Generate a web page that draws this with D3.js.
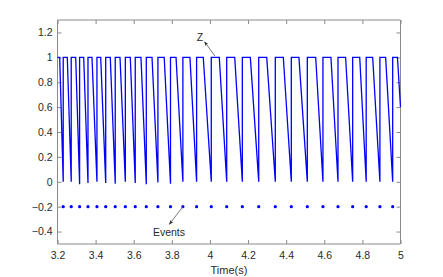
<!DOCTYPE html>
<html>
<head>
<meta charset="utf-8">
<script src="https://cdn.jsdelivr.net/npm/d3@7"></script>
<style>
  body { margin: 0; background: #fff; }
  text { font-family: "Liberation Sans Narrow", "Liberation Sans", Arial, sans-serif; }
</style>
</head>
<body>
<script>
// times (s) where an event fires; z is reset to 1 there
const eventTimes = [3.230, 3.272, 3.316, 3.360, 3.407, 3.453, 3.503, 3.556, 3.608,
    3.666, 3.727, 3.793, 3.858, 3.930, 4.007, 4.088, 4.170, 4.256, 4.343,
    4.427, 4.511, 4.593, 4.672, 4.749, 4.820, 4.892, 4.959];
// time where z leaves the flat top after each event
const plateauEnds = [3.2514, 3.2955, 3.3375, 3.381, 3.4267, 3.477, 3.528, 3.582, 3.638,
    3.696, 3.760, 3.822, 3.895, 3.965, 4.049, 4.130, 4.212, 4.298, 4.385,
    4.467, 4.555, 4.635, 4.712, 4.786, 4.854, 4.922, 4.984];
// z value just before each event
const troughValues = [0, 0, -0.02, -0.01, 0, -0.01, -0.015, 0, -0.01,
    -0.02, -0.005, -0.015, 0, 0, 0, 0, 0, 0, 0,
    0, 0, 0, 0, 0, 0, 0, 0];
const zStart = [[3.2, 1], [3.2115, 1]];
const zEnd = [5, 0.6];
const eventLevel = -0.2;

const xTicks = [3.2, 3.4, 3.6, 3.8, 4, 4.2, 4.4, 4.6, 4.8, 5];
const yTicks = [-0.4, -0.2, 0, 0.2, 0.4, 0.6, 0.8, 1, 1.2];

const W = 443, H = 277;
const x = d3.scaleLinear().domain([3.2, 5]).range([57.5, 400.5]);
const y = d3.scaleLinear().domain([-0.5, 1.3]).range([244, 20]);

const svg = d3.select('body').append('svg')
    .attr('width', W).attr('height', H);

// build z curve from the arrays
const zPoints = zStart.slice();
eventTimes.forEach((t, i) => {
    zPoints.push([t, troughValues[i]]);
    zPoints.push([t, 1]);
    zPoints.push([plateauEnds[i], 1]);
});
zPoints.push(zEnd);

const axisColor = '#8a8a8a';
const textColor = '#2a2a2a';
const fontSize = 10.5;

// axes (MATLAB style box with inward ticks)
const xAxis = d3.axisBottom(x).tickValues(xTicks).tickSize(-4).tickPadding(8)
    .tickFormat(d3.format('~g'));
const yAxis = d3.axisLeft(y).tickValues(yTicks).tickSize(-4).tickPadding(5)
    .tickFormat(d3.format('~g'));

const gx = svg.append('g').attr('transform', `translate(0,${y.range()[0]})`).call(xAxis);
const gy = svg.append('g').attr('transform', `translate(${x.range()[0]},0)`).call(yAxis);
const gxTop = svg.append('g').attr('transform', `translate(0,${y.range()[1]})`)
    .call(d3.axisTop(x).tickValues(xTicks).tickSize(-4).tickFormat(''));
const gyRight = svg.append('g').attr('transform', `translate(${x.range()[1]},0)`)
    .call(d3.axisRight(y).tickValues(yTicks).tickSize(-4).tickFormat(''));

[gx, gy, gxTop, gyRight].forEach(g => {
    g.select('.domain').attr('stroke', axisColor);
    g.selectAll('.tick line').attr('stroke', axisColor);
    g.selectAll('.tick text').attr('fill', textColor)
        .style('font-size', fontSize + 'px');
});
gx.selectAll('.domain').attr('d', `M${x.range()[0]},0H${x.range()[1]}`);
gy.selectAll('.domain').attr('d', `M0,${y.range()[0]}V${y.range()[1]}`);
gxTop.selectAll('.domain').attr('d', `M${x.range()[0]},0H${x.range()[1]}`);
gyRight.selectAll('.domain').attr('d', `M0,${y.range()[0]}V${y.range()[1]}`);

// z line
const line = d3.line().x(d => x(d[0])).y(d => y(d[1]));
svg.append('path')
    .datum(zPoints)
    .attr('fill', 'none')
    .attr('stroke', '#0000ff')
    .attr('stroke-width', 1.3)
    .attr('stroke-linejoin', 'miter')
    .attr('d', line);

// event dots
svg.append('g').selectAll('circle')
    .data(eventTimes)
    .join('circle')
    .attr('cx', d => x(d))
    .attr('cy', y(eventLevel))
    .attr('r', 1.6)
    .attr('fill', '#0000ff');

// x label
svg.append('text')
    .attr('x', (x.range()[0] + x.range()[1]) / 2)
    .attr('y', 274)
    .attr('text-anchor', 'middle')
    .attr('fill', textColor)
    .style('font-size', '11px')
    .text('Time(s)');

// annotations
const defs = svg.append('defs');
defs.append('marker')
    .attr('id', 'head')
    .attr('viewBox', '0 0 10 10')
    .attr('refX', 9).attr('refY', 5)
    .attr('markerWidth', 6).attr('markerHeight', 6)
    .attr('orient', 'auto')
    .append('path')
    .attr('d', 'M0,1L10,5L0,9L3,5Z')
    .attr('fill', '#333');

function arrow(from, to) {
    svg.append('line')
        .attr('x1', x(from[0])).attr('y1', y(from[1]))
        .attr('x2', x(to[0])).attr('y2', y(to[1]))
        .attr('stroke', '#555')
        .attr('stroke-width', 0.8)
        .attr('marker-end', 'url(#head)');
}
arrow([4.026, 1.011], [3.972, 1.125]);
arrow([3.858, -0.2], [3.787, -0.342]);

svg.append('text')
    .attr('x', x(3.948)).attr('y', y(1.163) + 4)
    .attr('text-anchor', 'middle')
    .attr('fill', textColor)
    .style('font-size', fontSize + 'px')
    .text('Z');
svg.append('text')
    .attr('x', x(3.785)).attr('y', y(-0.405) + 4)
    .attr('text-anchor', 'middle')
    .attr('fill', textColor)
    .style('font-size', fontSize + 'px')
    .text('Events');
</script>
</body>
</html>
